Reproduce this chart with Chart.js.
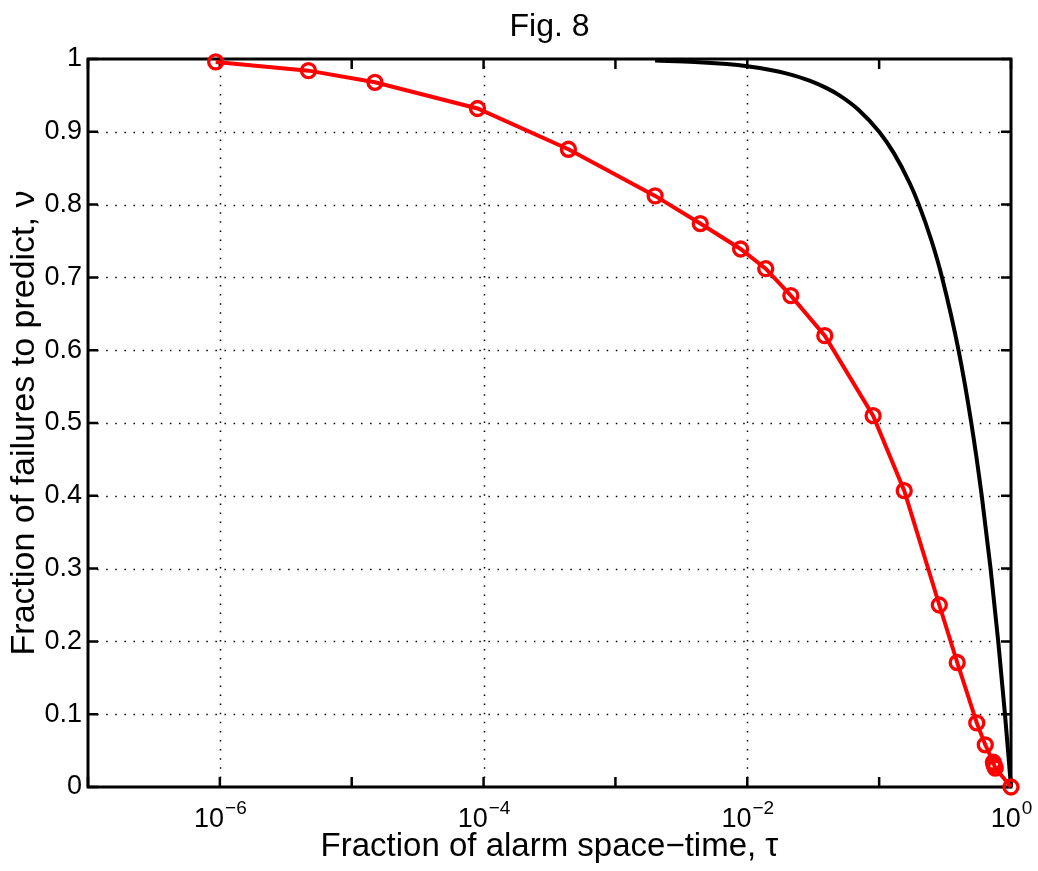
<!DOCTYPE html>
<html lang="en">
<head>
<meta charset="UTF-8">
<title>Fig. 8</title>
<style>
  html, body { margin: 0; padding: 0; background: #fff; }
  #wrap { width: 1038px; height: 871px; }
</style>
</head>
<body>
<div id="wrap"><canvas id="fig8" width="1038" height="871"></canvas></div>

<script src="https://cdn.jsdelivr.net/npm/chart.js@4.4.1/dist/chart.umd.min.js"></script>
<script>
  // alarm-based forecast: fraction of alarm space-time vs. failures to predict
  const alarmTau = [9.3e-7, 4.7e-6, 1.5e-5, 9.0e-5, 4.4e-4, 2.0e-3, 4.4e-3, 8.9e-3, 0.0138, 0.0214,
                    0.0387, 0.090, 0.155, 0.286, 0.391, 0.550, 0.638, 0.735, 0.746, 0.760, 1.0];
  const alarmNu  = [0.996, 0.984, 0.968, 0.932, 0.876, 0.812, 0.774, 0.739, 0.712, 0.675,
                    0.620, 0.510, 0.407, 0.250, 0.171, 0.088, 0.058, 0.034, 0.030, 0.026, 0];

  // random guessing reference curve
  const randomTau = [0.002, 0.004, 0.007, 0.01, 0.015, 0.02, 0.03, 0.04, 0.05, 0.07, 0.1, 0.13,
                     0.17, 0.2, 0.25, 0.3, 0.4, 0.5, 0.6, 0.7, 0.8, 0.9, 1.0];
  const randomNu  = [0.998, 0.996, 0.993, 0.99, 0.985, 0.98, 0.97, 0.96, 0.95, 0.93, 0.9, 0.87,
                     0.83, 0.8, 0.75, 0.7, 0.6, 0.5, 0.4, 0.3, 0.2, 0.1, 0];

  // axis ticks
  const xDecades = [1e-7, 1e-6, 1e-5, 1e-4, 1e-3, 1e-2, 1e-1, 1];
  const xLabelValues = [1e-6, 1e-4, 1e-2, 1];
  const xLabelExponents = ['\u22126', '\u22124', '\u22122', '0'];
  const yTicks = [0, 0.1, 0.2, 0.3, 0.4, 0.5, 0.6, 0.7, 0.8, 0.9, 1];

  const FONT = "'Liberation Sans', Arial, Helvetica, sans-serif";

  const toPoints = (xs, ys) => xs.map((x, i) => ({ x: x, y: ys[i] }));

  // dotted grid, box frame and inward ticks (matlab style)
  const axesBox = {
    id: 'axesBox',
    beforeDatasetsDraw(chart) {
      const { ctx, chartArea: a, scales: { x, y } } = chart;
      ctx.save();
      ctx.strokeStyle = '#000';

      ctx.lineWidth = 1.5;
      ctx.setLineDash([1.5, 7.6]);
      yTicks.forEach(v => {
        if (v <= 0 || v >= 1) return;
        const py = Math.round(y.getPixelForValue(v)) + 0.5;
        ctx.beginPath(); ctx.moveTo(a.left, py); ctx.lineTo(a.right, py); ctx.stroke();
      });
      xLabelValues.forEach(v => {
        if (v >= 1) return;
        const px = Math.round(x.getPixelForValue(v)) + 0.5;
        ctx.beginPath(); ctx.moveTo(px, a.bottom); ctx.lineTo(px, a.top); ctx.stroke();
      });
      ctx.setLineDash([]);

      ctx.lineWidth = 3;
      ctx.strokeRect(a.left, a.top, a.right - a.left, a.bottom - a.top);

      const len = 10;
      ctx.lineWidth = 2.5;
      yTicks.forEach(v => {
        const py = y.getPixelForValue(v);
        ctx.beginPath();
        ctx.moveTo(a.left, py); ctx.lineTo(a.left + len, py);
        ctx.moveTo(a.right, py); ctx.lineTo(a.right - len, py);
        ctx.stroke();
      });
      xDecades.forEach(v => {
        const px = x.getPixelForValue(v);
        ctx.beginPath();
        ctx.moveTo(px, a.bottom); ctx.lineTo(px, a.bottom - len);
        ctx.moveTo(px, a.top); ctx.lineTo(px, a.top + len);
        ctx.stroke();
      });
      ctx.restore();
    },
    afterDraw(chart) {
      // 10^n labels with raised exponents
      const { ctx, scales: { x } } = chart;
      ctx.save();
      ctx.fillStyle = '#000';
      ctx.textBaseline = 'alphabetic';
      ctx.textAlign = 'left';
      xLabelValues.forEach((v, i) => {
        ctx.font = `27px ${FONT}`;
        const wBase = ctx.measureText('10').width;
        ctx.font = `19px ${FONT}`;
        const wExp = ctx.measureText(xLabelExponents[i]).width;
        const left = x.getPixelForValue(v) - (wBase + wExp) / 2;
        ctx.font = `27px ${FONT}`;
        ctx.fillText('10', left, 827);
        ctx.font = `19px ${FONT}`;
        ctx.fillText(xLabelExponents[i], left + wBase + 1, 814);
      });
      ctx.restore();
    }
  };

  new Chart(document.getElementById('fig8'), {
    type: 'line',
    data: {
      datasets: [
        {
          label: 'alarm',
          data: toPoints(alarmTau, alarmNu),
          borderColor: '#ff0000',
          borderWidth: 4,
          pointStyle: 'circle',
          pointRadius: 7,
          pointBorderWidth: 3.3,
          pointBorderColor: '#ff0000',
          pointBackgroundColor: 'rgba(0,0,0,0)',
          tension: 0,
          clip: false
        },
        {
          label: 'random',
          data: toPoints(randomTau, randomNu),
          borderColor: '#000',
          borderWidth: 4,
          pointRadius: 0,
          cubicInterpolationMode: 'monotone',
          clip: false
        }
      ]
    },
    options: {
      responsive: false,
      animation: false,
      devicePixelRatio: 1,
      layout: { padding: { left: 0, right: 27, top: 0, bottom: 0 } },
      plugins: {
        legend: { display: false },
        tooltip: { enabled: false },
        title: {
          display: true,
          text: 'Fig. 8',
          fullSize: false,
          color: '#000',
          font: { family: FONT, size: 32, weight: 'normal' },
          padding: { top: 8, bottom: 12.6 }
        }
      },
      scales: {
        x: {
          type: 'logarithmic',
          position: 'bottom',
          min: 1e-7,
          max: 1,
          grid: { display: false, drawTicks: false },
          border: { display: false },
          afterBuildTicks: s => { s.ticks = xDecades.map(v => ({ value: v })); },
          ticks: { callback: () => '' },
          afterFit: s => { s.height = 84; },
          title: {
            display: true,
            text: 'Fraction of alarm space\u2212time, \u03c4',
            color: '#000',
            font: { family: FONT, size: 33 },
            padding: { top: 0, bottom: 4.5 }
          }
        },
        y: {
          type: 'linear',
          min: 0,
          max: 1,
          grid: { display: false, drawTicks: false },
          border: { display: false },
          afterBuildTicks: s => { s.ticks = yTicks.map(v => ({ value: v })); },
          ticks: {
            color: '#000',
            padding: 6,
            font: { family: FONT, size: 27 },
            callback: v => String(Math.round(v * 10) / 10)
          },
          afterFit: s => { s.width = 88; },
          title: {
            display: true,
            text: 'Fraction of failures to predict, \u03bd',
            color: '#000',
            font: { family: FONT, size: 34 },
            padding: { top: 4, bottom: 0 }
          }
        }
      }
    },
    plugins: [axesBox]
  });
</script>
</body>
</html>
